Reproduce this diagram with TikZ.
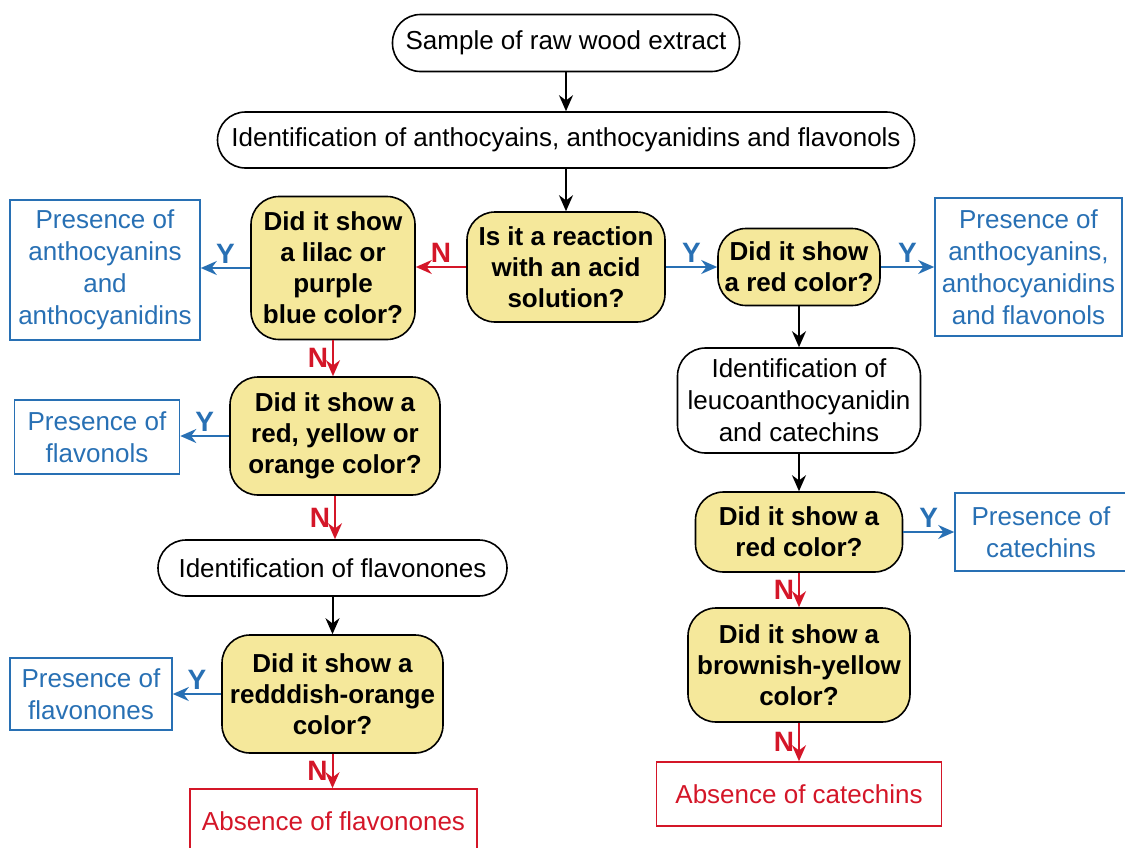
\documentclass[tikz,border=0pt]{standalone}
\usepackage{fontspec}
\setmainfont{Liberation Sans}
\usetikzlibrary{arrows.meta}
\definecolor{qfill}{RGB}{245,232,155}
\definecolor{yesblue}{RGB}{40,112,180}
\definecolor{nored}{RGB}{212,22,40}
\begin{document}
\begin{tikzpicture}[x=25pt,y=25pt,
    arrow/.style = {line width=1pt,-{Stealth[length=8pt,width=7pt]}},
    yes/.style = {arrow,yesblue},
    no/.style = {arrow,nored},
    lab/.style = {font=\fontsize{14}{16}\selectfont\bfseries,inner sep=2pt},
    identbox/.style = {draw,line width=0.8pt,rounded corners=14pt,fill=white,align=center,
        inner sep=0pt,font=\fontsize{13}{16}\selectfont},
    question/.style = {draw,line width=0.8pt,rounded corners=14pt,fill=qfill,align=center,
        inner sep=0pt,font=\fontsize{13}{15.5}\selectfont\bfseries},
    yesbox/.style = {draw=yesblue,line width=0.8pt,text=yesblue,align=center,
        inner sep=0pt,font=\fontsize{13}{16}\selectfont},
    nobox/.style = {draw=nored,line width=0.8pt,text=nored,align=center,
        inner sep=0pt,font=\fontsize{13}{16}\selectfont}]
    \useasboundingbox (0,0) rectangle (22.5,-16.94);

    % top of the chart
    \node[identbox,minimum width=173.5pt,minimum height=28.5pt] (sample)
        at (11.32,-0.86) {Sample of raw wood extract};
    \node[identbox,minimum width=348.5pt,minimum height=28pt] (ident)
        at (11.32,-2.80) {Identification of anthocyains, anthocyanidins and flavonols};
    \node[question,minimum width=99pt,minimum height=55pt] (acid)
        at (11.32,-5.34) {Is it a reaction\\with an acid\\solution?};

    % left branch
    \node[question,minimum width=82pt,minimum height=71.5pt] (lilac)
        at (6.66,-5.36) {Did it show\\a lilac or\\purple\\blue color?};
    \node[yesbox,minimum width=95pt,minimum height=70pt] (anthoL)
        at (2.10,-5.40) {Presence of\\anthocyanins\\and\\anthocyanidins};
    \node[question,minimum width=105pt,minimum height=59pt] (ryo)
        at (6.70,-8.72) {Did it show a\\red, yellow or\\orange color?};
    \node[yesbox,minimum width=82.5pt,minimum height=37pt] (flavonols)
        at (1.94,-8.74) {Presence of\\flavonols};
    \node[identbox,minimum width=174.5pt,minimum height=28pt] (identL)
        at (6.65,-11.36) {Identification of flavonones};
    \node[question,minimum width=110.5pt,minimum height=59pt] (reddish)
        at (6.65,-13.88) {Did it show a\\redddish-orange\\color?};
    \node[yesbox,minimum width=81pt,minimum height=36pt] (flavonones)
        at (1.82,-13.88) {Presence of\\flavonones};
    \node[nobox,minimum width=143.5pt,minimum height=32pt] (noflav)
        at (6.67,-16.42) {Absence of flavonones};

    % right branch
    \node[question,minimum width=81pt,minimum height=38.5pt] (red1)
        at (15.98,-5.34) {Did it show\\a red color?};
    \node[yesbox,minimum width=93.5pt,minimum height=69pt] (anthoR)
        at (20.57,-5.34) {Presence of\\anthocyanins,\\anthocyanidins\\and flavonols};
    \node[identbox,minimum width=121.5pt,minimum height=52.5pt] (identR)
        at (15.98,-8.01) {Identification of\\leucoanthocyanidin\\and catechins};
    \node[question,minimum width=103.5pt,minimum height=40pt] (red2)
        at (15.98,-10.64) {Did it show a\\red color?};
    \node[yesbox,minimum width=86pt,minimum height=39pt] (catechins)
        at (20.82,-10.64) {Presence of\\catechins};
    \node[question,minimum width=111pt,minimum height=57pt] (brown)
        at (15.98,-13.30) {Did it show a\\brownish-yellow\\color?};
    \node[nobox,minimum width=142.5pt,minimum height=32pt] (nocat)
        at (15.98,-15.88) {Absence of catechins};

    % connectors
    \draw[arrow] (sample) -- (ident);
    \draw[arrow] (ident) -- (acid);
    \draw[no] (acid.west) -- node[lab,text=nored,above] {N} (acid.west -| lilac.east);
    \draw[yes] (acid.east) -- node[lab,text=yesblue,above] {Y} (acid.east -| red1.west);
    \draw[yes] (lilac.west) -- node[lab,text=yesblue,above] {Y} (lilac.west -| anthoL.east);
    \draw[no] (lilac.south) -- node[lab,text=nored,left] {N} (lilac.south |- ryo.north);
    \draw[yes] (ryo.west) -- node[lab,text=yesblue,above] {Y} (ryo.west -| flavonols.east);
    \draw[no] (ryo.south) -- node[lab,text=nored,left] {N} (ryo.south |- identL.north);
    \draw[arrow] (identL) -- (reddish);
    \draw[yes] (reddish.west) -- node[lab,text=yesblue,above] {Y} (reddish.west -| flavonones.east);
    \draw[no] (reddish.south) -- node[lab,text=nored,left] {N} (reddish.south |- noflav.north);
    \draw[yes] (red1) -- node[lab,text=yesblue,above] {Y} (anthoR);
    \draw[arrow] (red1) -- (identR);
    \draw[arrow] (identR) -- (red2);
    \draw[yes] (red2) -- node[lab,text=yesblue,above] {Y} (catechins);
    \draw[no] (red2) -- node[lab,text=nored,left] {N} (brown);
    \draw[no] (brown) -- node[lab,text=nored,left] {N} (nocat);
\end{tikzpicture}
\end{document}
